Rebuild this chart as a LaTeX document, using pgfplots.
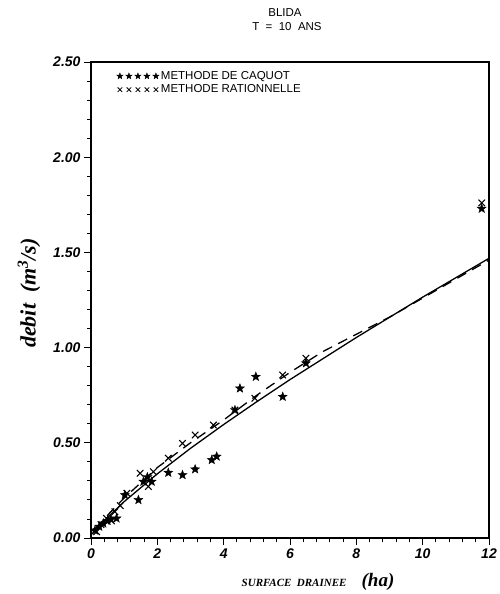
\documentclass[border=0pt]{standalone}
\usepackage{pgfplots}
\pgfplotsset{compat=1.18}
\usepackage{pgfplotstable}
\usepackage{fontspec}
\setmainfont{Liberation Sans}
\newfontfamily\labelserif{Liberation Serif}

% filled five-pointed star
\pgfdeclareplotmark{fstar}{%
  \pgfpathmoveto{\pgfpointpolar{90}{\pgfplotmarksize}}%
  \pgfpathlineto{\pgfpointpolar{126}{0.42\pgfplotmarksize}}%
  \pgfpathlineto{\pgfpointpolar{162}{\pgfplotmarksize}}%
  \pgfpathlineto{\pgfpointpolar{198}{0.42\pgfplotmarksize}}%
  \pgfpathlineto{\pgfpointpolar{234}{\pgfplotmarksize}}%
  \pgfpathlineto{\pgfpointpolar{270}{0.42\pgfplotmarksize}}%
  \pgfpathlineto{\pgfpointpolar{306}{\pgfplotmarksize}}%
  \pgfpathlineto{\pgfpointpolar{342}{0.42\pgfplotmarksize}}%
  \pgfpathlineto{\pgfpointpolar{18}{\pgfplotmarksize}}%
  \pgfpathlineto{\pgfpointpolar{54}{0.42\pgfplotmarksize}}%
  \pgfpathclose
  \pgfusepathqfillstroke}

% surface (ha)  debit (m3/s)
\pgfplotstableread{
x y
0.12 0.040
0.25 0.060
0.37 0.077
0.50 0.090
0.60 0.100
0.77 0.103
1.02 0.226
1.43 0.200
1.58 0.296
1.70 0.320
1.83 0.296
2.33 0.343
2.76 0.331
3.14 0.361
3.64 0.410
3.79 0.428
4.34 0.672
4.49 0.786
4.97 0.847
5.78 0.742
6.48 0.918
11.78 1.730
}\caquot

\pgfplotstableread{
x y
0.17 0.033
0.30 0.070
0.47 0.103
0.62 0.090
0.72 0.138
0.88 0.170
1.08 0.235
1.48 0.340
1.73 0.270
1.88 0.348
2.33 0.419
2.76 0.497
3.14 0.541
3.69 0.593
4.34 0.672
4.94 0.734
5.78 0.856
6.48 0.944
11.78 1.760
}\rationnelle

% fitted curves
\pgfplotstableread{
x y
0.15 0.040
0.5 0.108
1 0.191
2 0.337
3 0.471
4 0.596
5 0.716
6 0.832
8 1.053
10 1.265
12 1.469
}\fitcaquot

\pgfplotstableread{
x y
0.15 0.050
0.5 0.120
1 0.210
2 0.370
3 0.500
4 0.620
5 0.750
6 0.870
7 0.980
8 1.070
9 1.160
10 1.260
12 1.460
}\fitrationnelle

\begin{document}
\begin{tikzpicture}[x=1pt,y=1pt]
\useasboundingbox (-91,-56) rectangle (409,538);
\begin{axis}[
  at={(0,0)}, anchor=south west, scale only axis,
  width=398pt, height=476pt,
  xmin=0, xmax=12, ymin=0, ymax=2.5,
  xtick={0,2,4,6,8,10,12},
  ytick={0,0.5,1,1.5,2,2.5},
  minor x tick num=4, minor y tick num=4,
  tick align=outside, xtick pos=bottom, ytick pos=left,
  major tick length=7pt, minor tick length=4pt,
  axis line style={line width=1.1pt},
  every tick/.style={black, line width=0.9pt},
  /pgf/number format/assume math mode=true,
  ticklabel style={font=\fontsize{14}{14}\selectfont\bfseries\itshape},
  yticklabel style={/pgf/number format/.cd, fixed, fixed zerofill, precision=2},
  legend style={at={(0.062,0.987)}, anchor=north west, draw=none, fill=none,
    font=\fontsize{11.5}{14}\selectfont, row sep=0pt, inner sep=1pt},
  legend cell align=left,
  clip=false,
]
\addplot[only marks, mark=fstar, mark size=4.7pt, black, fill=black,
  legend image code/.code={\draw[only marks, mark size=3.2pt] plot coordinates
    {(0pt,0pt)(9pt,0pt)(18pt,0pt)(27pt,0pt)(36pt,0pt)};}]
  table {\caquot};
\addlegendentry{METHODE DE CAQUOT}
\addplot[only marks, mark=x, mark size=4.6pt, black, line width=1.1pt,
  legend image code/.code={\draw[only marks, mark size=3.2pt, line width=0.8pt] plot coordinates
    {(0pt,0pt)(9pt,0pt)(18pt,0pt)(27pt,0pt)(36pt,0pt)};}]
  table {\rationnelle};
\addlegendentry{METHODE RATIONNELLE}
\addplot[black, line width=1.3pt, forget plot] table {\fitcaquot};
\addplot[black, line width=1.3pt, dash pattern=on 10pt off 7pt, forget plot] table {\fitrationnelle};
\end{axis}
% titles
\node[font=\fontsize{11.5}{11.5}\selectfont] at (194,525) {BLIDA};
\node[font=\fontsize{11.5}{11.5}\selectfont] at (196,511) {T\ \ =\ \ 10\ \ ANS};
% axis labels
\node[anchor=east, font=\labelserif\fontsize{11}{11}\selectfont\bfseries\itshape] at (259,-45) {SURFACE\ \ DRAINEE};
\node[font=\labelserif\fontsize{19}{19}\selectfont\bfseries\itshape] at (287,-44) {(ha)};
\node[rotate=90, font=\labelserif\fontsize{22}{22}\selectfont\bfseries\itshape] at (-62,245) {debit\ \ (m\textsuperscript{3}/s)};
\end{tikzpicture}
\end{document}
